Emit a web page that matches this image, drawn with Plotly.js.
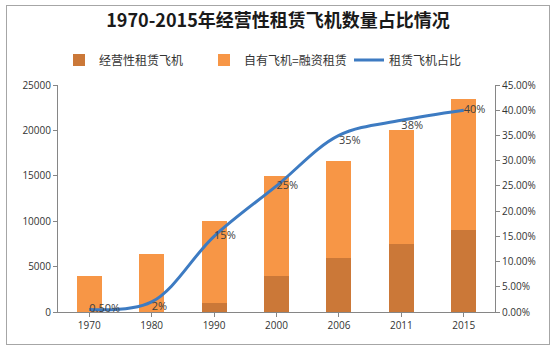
<!DOCTYPE html>
<html><head><meta charset="utf-8">
<script src="https://cdn.plot.ly/plotly-3.0.1.min.js"></script>
<style>
html,body{margin:0;padding:0;background:#fff;}
#frame{position:absolute;left:6px;top:5px;width:542px;height:338px;border:1px solid #a6a6a6;}
#chart{position:absolute;left:0;top:0;width:556px;height:351px;}
</style></head>
<body>
<div id="frame"></div>
<div id="chart"></div>
<script>
const years = ['1970','1980','1990','2000','2006','2011','2015'];
const operatingLease = [0, 0, 1000, 4000, 6000, 7500, 9000];
const ownedFinance = [4000, 6400, 9000, 11000, 10600, 12500, 14500];
const leaseShare = [0.005, 0.02, 0.15, 0.25, 0.35, 0.38, 0.40];
const shareLabels = ['0.50%', '2%', '15%', '25%', '35%', '38%', '40%'];
const labelPos = ['middle right','bottom right','middle right','middle right','bottom right','bottom right','middle right'];

const cjk = '"Noto Sans CJK SC", "Open Sans", sans-serif';
const num = '"Open Sans", "Liberation Sans", sans-serif';

const traces = [
  {type:'bar', name:'经营性租赁飞机', x:years, y:operatingLease, marker:{color:'#CB7838'}, yaxis:'y'},
  {type:'bar', name:'自有飞机=融资租赁', x:years, y:ownedFinance, marker:{color:'#F79646'}, yaxis:'y'},
  {type:'scatter', mode:'lines+text', name:'租赁飞机占比', x:years, y:leaseShare, yaxis:'y2', cliponaxis:false,
   line:{color:'#3D7BC2', width:3, shape:'spline', smoothing:1},
   text:shareLabels, textposition:labelPos, textfont:{family:num, size:11, color:'#404040'}}
];

const layout = {
  width:556, height:351,
  margin:{l:58, r:61, t:85, b:39},
  paper_bgcolor:'rgba(0,0,0,0)', plot_bgcolor:'rgba(0,0,0,0)',
  barmode:'stack', bargap:0.6,
  title:{text:'<b>1970-2015年经营性租赁飞机数量占比情况</b>', x:0.5, xanchor:'center', y:0.94, yanchor:'middle',
         font:{family:cjk, size:18, color:'#1a1a1a'}},
  showlegend:true,
  legend:{orientation:'h', x:0.5, xanchor:'center', y:1.11, yanchor:'middle',
          font:{family:cjk, size:12, color:'#333'}, entrywidth:100, traceorder:'normal'},
  xaxis:{type:'category', showline:true, linecolor:'#868686', ticks:'outside', ticklen:4, tickcolor:'#868686',
         tickfont:{family:num, size:10, color:'#333'}, showgrid:false, zeroline:false},
  yaxis:{range:[0,25000], dtick:5000, tickformat:'d', showline:true, linecolor:'#868686', ticks:'outside', ticklen:4, tickcolor:'#868686',
         tickfont:{family:num, size:10, color:'#333'}, showgrid:false, zeroline:false},
  yaxis2:{overlaying:'y', side:'right', range:[0,0.45], dtick:0.05, tickformat:'.2%', showline:true, linecolor:'#868686',
          ticks:'outside', ticklen:4, tickcolor:'#868686', tickfont:{family:num, size:10, color:'#333'},
          showgrid:false, zeroline:false}
};
Plotly.newPlot('chart', traces, layout, {displayModeBar:false, staticPlot:true});
</script>
</body></html>
